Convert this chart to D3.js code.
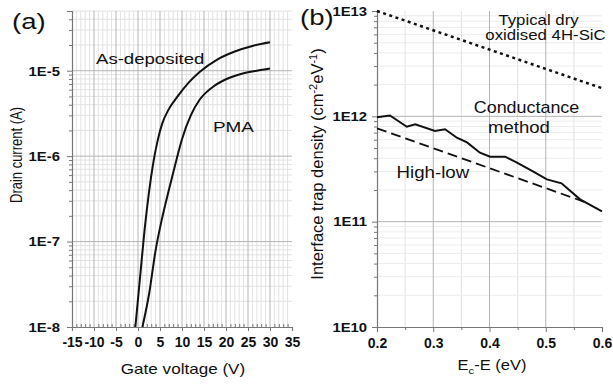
<!DOCTYPE html>
<html><head><meta charset="utf-8">
<script src="https://cdn.jsdelivr.net/npm/d3@7"></script>
<style>html,body{margin:0;padding:0;background:#fff;}svg{display:block;}</style>
</head><body>
<script>
// ---------- DATA ----------
// Panel (a): transfer curves (gate voltage in V, drain current in A)
const gateVAsDep = [-0.6, 0.5, 1.5, 2.5, 3.5, 4.5, 5.5, 7.0, 9.0, 11.5, 14.0, 18.0, 22.0, 26.0, 30.0];
const currentAsDep = [1.0e-8, 3.98e-8, 1.38e-7, 3.8e-7, 8.5e-7, 1.55e-6, 2.4e-6, 3.55e-6, 5.0e-6, 7.24e-6, 9.66e-6, 1.35e-5, 1.68e-5, 1.95e-5, 2.15e-5];
const gateVPMA = [1.0, 2.5, 4.0, 5.5, 7.0, 8.5, 10.0, 12.0, 14.0, 17.0, 20.0, 24.0, 27.0, 30.0];
const currentPMA = [1.0e-8, 2.4e-8, 7.9e-8, 1.9e-7, 4.0e-7, 8.1e-7, 1.58e-6, 3.0e-6, 4.57e-6, 6.46e-6, 7.94e-6, 9.33e-6, 1.0e-5, 1.06e-5];
const xTicksA = [-15, -10, -5, 0, 5, 10, 15, 20, 25, 30, 35];
const yTicksA = [1e-8, 1e-7, 1e-6, 1e-5];
const yTickLabelsA = ["1E-8", "1E-7", "1E-6", "1E-5"];

// Panel (b): interface trap density (Ec-E in eV, Dit in cm^-2 eV^-1)
const energyCond = [0.2, 0.223, 0.253, 0.268, 0.303, 0.321, 0.342, 0.36, 0.383, 0.401, 0.428, 0.448, 0.478, 0.502, 0.528, 0.561, 0.6];
const ditCond = [9.8e11, 1.02e12, 7.97e11, 8.4e11, 7.26e11, 7.55e11, 6.27e11, 5.66e11, 4.52e11, 4.14e11, 4.14e11, 3.66e11, 2.98e11, 2.52e11, 2.31e11, 1.63e11, 1.25e11];
const energyHL = [0.2, 0.575];
const ditHL = [7.7e11, 1.5e11];
const energyDry = [0.2, 0.6];
const ditDry = [1e13, 1.85e12];
const xTicksB = [0.2, 0.3, 0.4, 0.5, 0.6];
const yTicksB = [1e10, 1e11, 1e12, 1e13];
const yTickLabelsB = ["1E10", "1E11", "1E12", "1E13"];

// ---------- SETUP ----------
const FONT = "'Liberation Sans', Arial, Helvetica, sans-serif";
const svg = d3.select("body").append("svg").attr("width", 613).attr("height", 385)
  .style("font-family", FONT);
svg.append("rect").attr("width", 613).attr("height", 385).attr("fill", "#fff");

const xA = d3.scaleLinear().domain([-15, 35]).range([72, 292]);
const yA = d3.scaleLog().domain([1e-8, 5e-5]).range([327, 11]);
const xB = d3.scaleLinear().domain([0.2, 0.6]).range([377, 602]);
const yB = d3.scaleLog().domain([1e10, 1e13]).range([327, 11]);

const MINOR = "#e2e2e2", MAJOR = "#b4b4b4", AXIS = "#777";

function logMinors(lo, hi) {
  const out = [];
  for (let d = Math.floor(Math.log10(lo)); d <= Math.ceil(Math.log10(hi)); d++) {
    for (let m = 2; m <= 9; m++) { const v = m * Math.pow(10, d); if (v > lo && v <= hi * 1.0001) out.push(v); }
  }
  return out;
}

function stext(parent, x, y, str, size, sx, anchor, weight) {
  return parent.append("text")
    .attr("transform", `translate(${x},${y}) scale(${sx},1)`)
    .attr("text-anchor", anchor || "start")
    .attr("font-size", size)
    .attr("font-weight", weight || "normal")
    .attr("fill", "#111")
    .text(str);
}

// ---------- PANEL A ----------
const gA = svg.append("g");
const vMinorA = d3.range(-14, 35, 1).filter(v => v % 5 !== 0);
gA.selectAll(".vmA").data(vMinorA).join("line")
  .attr("x1", d => xA(d)).attr("x2", d => xA(d)).attr("y1", yA(5e-5)).attr("y2", yA(1e-8))
  .attr("stroke", MINOR).attr("stroke-width", 1);
gA.selectAll(".hmA").data(logMinors(1e-8, 5e-5)).join("line")
  .attr("x1", xA(-15)).attr("x2", xA(35)).attr("y1", d => yA(d)).attr("y2", d => yA(d))
  .attr("stroke", MINOR).attr("stroke-width", 1);
gA.selectAll(".vMA").data(xTicksA.filter(v => v > -15 && v < 35)).join("line")
  .attr("x1", d => xA(d)).attr("x2", d => xA(d)).attr("y1", yA(5e-5)).attr("y2", yA(1e-8))
  .attr("stroke", MAJOR).attr("stroke-width", 1);
gA.selectAll(".hMA").data(yTicksA.slice(1)).join("line")
  .attr("x1", xA(-15)).attr("x2", xA(35)).attr("y1", d => yA(d)).attr("y2", d => yA(d))
  .attr("stroke", MAJOR).attr("stroke-width", 1);

// axes A
const axYA = gA.append("g").attr("transform", `translate(${xA(-15)},0)`)
  .call(d3.axisLeft(yA).tickValues(yTicksA).tickFormat((d, i) => yTickLabelsA[i]).tickSize(5).tickPadding(6));
const axYAm = gA.append("g").attr("transform", `translate(${xA(-15)},0)`)
  .call(d3.axisLeft(yA).tickValues(logMinors(1e-8, 5e-5)).tickFormat("").tickSize(3));
const axXA = gA.append("g").attr("transform", `translate(0,${yA(1e-8)})`)
  .call(d3.axisBottom(xA).tickValues(xTicksA).tickFormat(d => String(d)).tickSize(4).tickPadding(6));
const axXAm = gA.append("g").attr("transform", `translate(0,${yA(1e-8)})`)
  .call(d3.axisBottom(xA).tickValues(vMinorA).tickFormat("").tickSize(-3));

// ---------- PANEL B ----------
const gB = svg.append("g");
const vMinorB = [0.25, 0.35, 0.45, 0.55];
gB.selectAll(".vmB").data(vMinorB).join("line")
  .attr("x1", d => xB(d)).attr("x2", d => xB(d)).attr("y1", yB(1e13)).attr("y2", yB(1e10))
  .attr("stroke", MINOR).attr("stroke-width", 1);
gB.selectAll(".hmB").data(logMinors(1e10, 1e13).filter(v => v < 1e13)).join("line")
  .attr("x1", xB(0.2)).attr("x2", xB(0.6)).attr("y1", d => yB(d)).attr("y2", d => yB(d))
  .attr("stroke", "#ececec").attr("stroke-width", 1);
gB.selectAll(".vMB").data([0.3, 0.4, 0.5]).join("line")
  .attr("x1", d => xB(d)).attr("x2", d => xB(d)).attr("y1", yB(1e13)).attr("y2", yB(1e10))
  .attr("stroke", MAJOR).attr("stroke-width", 1);
gB.selectAll(".hMB").data([1e11, 1e12]).join("line")
  .attr("x1", xB(0.2)).attr("x2", xB(0.6)).attr("y1", d => yB(d)).attr("y2", d => yB(d))
  .attr("stroke", MAJOR).attr("stroke-width", 1);

const axYB = gB.append("g").attr("transform", `translate(${xB(0.2)},0)`)
  .call(d3.axisLeft(yB).tickValues(yTicksB).tickFormat((d, i) => yTickLabelsB[i]).tickSize(5).tickPadding(4));
const axYBm = gB.append("g").attr("transform", `translate(${xB(0.2)},0)`)
  .call(d3.axisLeft(yB).tickValues(logMinors(1e10, 1e13).filter(v => v < 1e13)).tickFormat("").tickSize(3));
const axXB = gB.append("g").attr("transform", `translate(0,${yB(1e10)})`)
  .call(d3.axisBottom(xB).tickValues(xTicksB).tickFormat(d3.format(".1f")).tickSize(5).tickPadding(6));
const axXBm = gB.append("g").attr("transform", `translate(0,${yB(1e10)})`)
  .call(d3.axisBottom(xB).tickValues(vMinorB).tickFormat("").tickSize(3));

// axis styling
svg.selectAll(".domain").attr("stroke", AXIS).attr("stroke-width", 1.2);
svg.selectAll(".tick line").attr("stroke", AXIS);
svg.selectAll(".tick text").attr("font-family", FONT).attr("font-weight", "bold")
  .attr("font-size", 13.5).attr("fill", "#111");
[axYA, axYB].forEach(ax => ax.selectAll(".tick text").attr("transform", "scale(1.1,1)"));
axXA.selectAll(".tick text").attr("font-size", 14);
axXB.selectAll(".tick text").attr("font-size", 14);
[axYAm, axXAm, axYBm, axXBm].forEach(ax => ax.select(".domain").remove());

// ---------- LINES ----------
const lineA = d3.line().x(d => xA(d[0])).y(d => yA(d[1])).curve(d3.curveMonotoneX);
gA.append("path").datum(d3.zip(gateVAsDep, currentAsDep)).attr("d", lineA)
  .attr("fill", "none").attr("stroke", "#111").attr("stroke-width", 2);
gA.append("path").datum(d3.zip(gateVPMA, currentPMA)).attr("d", lineA)
  .attr("fill", "none").attr("stroke", "#111").attr("stroke-width", 2);

const lineB = d3.line().x(d => xB(d[0])).y(d => yB(d[1]));
gB.append("path").datum(d3.zip(energyDry, ditDry)).attr("d", lineB)
  .attr("fill", "none").attr("stroke", "#111").attr("stroke-width", 2.5).attr("stroke-dasharray", "3,3.5");
gB.append("path").datum(d3.zip(energyHL, ditHL)).attr("d", lineB)
  .attr("fill", "none").attr("stroke", "#111").attr("stroke-width", 1.8).attr("stroke-dasharray", "10,5");
gB.append("path").datum(d3.zip(energyCond, ditCond)).attr("d", lineB)
  .attr("fill", "none").attr("stroke", "#111").attr("stroke-width", 2);

// ---------- TEXT ----------
stext(svg, 12, 29, "(a)", 22, 1.25);
stext(svg, 300, 25, "(b)", 22, 1.25);
stext(svg, 96, 64, "As-deposited", 15, 1.24);
stext(svg, 213, 132, "PMA", 15.5, 1.22);
stext(svg, 538.5, 25, "Typical dry", 14, 1.2, "middle");
stext(svg, 545.5, 40, "oxidised 4H-SiC", 14, 1.2, "middle");
stext(svg, 526.5, 113, "Conductance", 16, 1.12, "middle");
stext(svg, 519, 133, "method", 16, 1.16, "middle");
stext(svg, 396.5, 178, "High-low", 16, 1.17);

// axis titles
stext(svg, 183, 374, "Gate voltage (V)", 14, 1.22, "middle");
const xt = svg.append("text").attr("transform", "translate(492,370) scale(1.18,1)")
  .attr("text-anchor", "middle").attr("font-size", 14).attr("fill", "#111");
xt.append("tspan").text("E");
xt.append("tspan").attr("font-size", 9.5).attr("dy", 4).text("c");
xt.append("tspan").attr("dy", -4).text("-E (eV)");

svg.append("text").attr("transform", "translate(22,155) rotate(-90) scale(1,1.2)")
  .attr("text-anchor", "middle").attr("font-size", 13).attr("fill", "#111")
  .text("Drain current (A)");

const yt = svg.append("text").attr("transform", "translate(323,164) rotate(-90)")
  .attr("text-anchor", "middle").attr("font-size", 16.5).attr("fill", "#111");
yt.append("tspan").text("Interface trap density (cm");
yt.append("tspan").attr("font-size", 11).attr("dy", -6).text("-2");
yt.append("tspan").attr("dy", 6).text("eV");
yt.append("tspan").attr("font-size", 11).attr("dy", -6).text("-1");
yt.append("tspan").attr("dy", 6).text(")");
</script>
</body></html>
